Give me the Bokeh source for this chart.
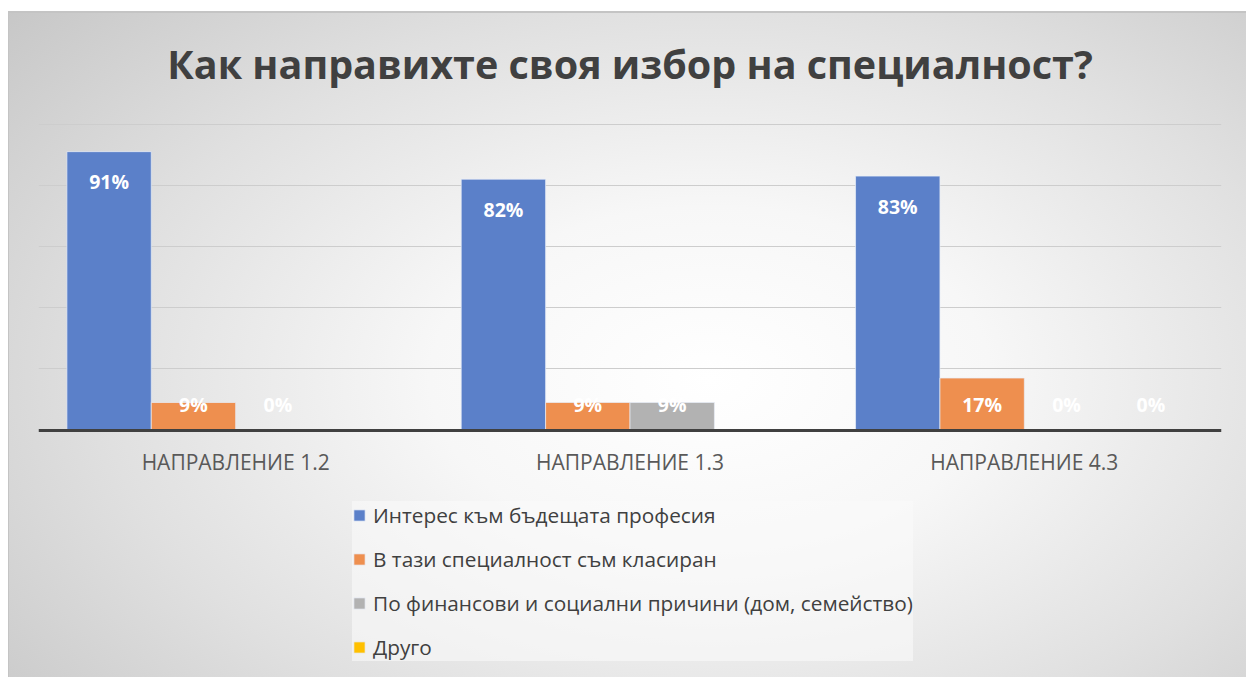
from bokeh.plotting import figure
from bokeh.models import (ColumnDataSource, FactorRange, Range1d, FixedTicker, Legend, LegendItem,
                          InlineStyleSheet)
from bokeh.transform import dodge
from bokeh.core.properties import value
from bokeh.embed import file_html
from bokeh.resources import INLINE

# ---- data ----
categories = ["НАПРАВЛЕНИЕ 1.2", "НАПРАВЛЕНИЕ 1.3", "НАПРАВЛЕНИЕ 4.3"]
series_names = [
    "Интерес към бъдещата професия",
    "В тази специалност съм класиран",
    "По финансови и социални причини (дом, семейство)",
    "Друго",
]
interes = [0.91, 0.82, 0.83]
klasiran = [0.09, 0.09, 0.17]
finansovi = [0.00, 0.09, 0.00]
drugo = [None, None, 0.00]
series_values = [interes, klasiran, finansovi, drugo]
colors = ["#5b80c9", "#ee8f4f", "#b2b2b2", "#ffc000"]
title_text = "Как направихте своя избор на специалност?"

FONT = "Open Sans"

css = InlineStyleSheet(css=""":host {
  background: radial-gradient(ellipse 75% 85% at 57% 56%, #ffffff 0%, #f7f7f7 30%, #e0e0e0 65%, #c6c6c6 100%);
  box-shadow: inset 8px 11px 0 0 #ffffff, inset 9px 13px 0 0 #c4c4c4;
}""")

# frame spans the plot area and the legend area below it; the category axis sits at y = 0
p = figure(x_range=FactorRange(*categories, range_padding=0), y_range=Range1d(-0.786, 1.002),
           width=1246, height=677, output_backend="svg", toolbar_location=None,
           min_border_left=38, min_border_right=25, min_border_top=123, min_border_bottom=7,
           stylesheets=[css])
p.border_fill_alpha = 0
p.background_fill_alpha = 0
p.outline_line_color = None

p.title.text = title_text
p.title.align = "center"
p.title.text_font = FONT
p.title.text_font_style = "bold"
p.title.text_font_size = "39.5px"
p.title.text_color = "#404040"
p.title.standoff = 66

bar_w = 0.214
offsets = [-1.5 * bar_w, -0.5 * bar_w, 0.5 * bar_w, 1.5 * bar_w]
items = []
for name, vals, col, off in zip(series_names, series_values, colors, offsets):
    tops = [float("nan") if v is None else v for v in vals]
    src = ColumnDataSource(dict(cat=categories, top=tops))
    r = p.vbar(x=dodge("cat", off, range=p.x_range), top="top", bottom=0, width=bar_w, source=src,
               fill_color=col, line_color="#e8eef8", line_alpha=0.7, line_width=1)
    items.append(LegendItem(label=name, renderers=[r]))
    lc, ly, lt = [], [], []
    for c, v in zip(categories, vals):
        if v is None:
            continue
        lc.append(c)
        ly.append(max(v - 0.098, 0.085))
        lt.append(f"{round(v * 100)}%")
    lsrc = ColumnDataSource(dict(cat=lc, y=ly, t=lt))
    p.text(x=dodge("cat", off, range=p.x_range), y="y", text="t", source=lsrc,
           text_align="center", text_baseline="middle", text_color="white",
           text_font=value(FONT), text_font_style="bold", text_font_size="19.5px")

p.yaxis.visible = False
p.ygrid.ticker = FixedTicker(ticks=[0.2, 0.4, 0.6, 0.8, 1.0])
p.ygrid.grid_line_color = "#cdcdcd"
p.ygrid.grid_line_width = 1
p.xgrid.grid_line_color = None

xa = p.xaxis[0]
xa.fixed_location = 0
xa.axis_line_color = "#404040"
xa.axis_line_width = 3
xa.major_tick_line_color = None
xa.minor_tick_line_color = None
xa.major_tick_out = 0
xa.major_tick_in = 0
xa.major_label_text_font = FONT
xa.major_label_text_font_size = "21px"
xa.major_label_text_color = "#595959"
xa.major_label_standoff = 18

legend = Legend(items=items, location=(314, 9), orientation="vertical")
legend.label_text_font = FONT
legend.label_text_font_size = "20.8px"
legend.label_text_color = "#404040"
legend.glyph_width = 14
legend.glyph_height = 14
legend.label_height = 20
legend.spacing = 16
legend.padding = 8
legend.margin = 0
legend.label_standoff = 7
legend.background_fill_color = "#fafafa"
legend.background_fill_alpha = 0.6
legend.border_line_color = None
legend.click_policy = "none"
p.add_layout(legend, "center")

open("out.html", "w").write(file_html(p, INLINE))
